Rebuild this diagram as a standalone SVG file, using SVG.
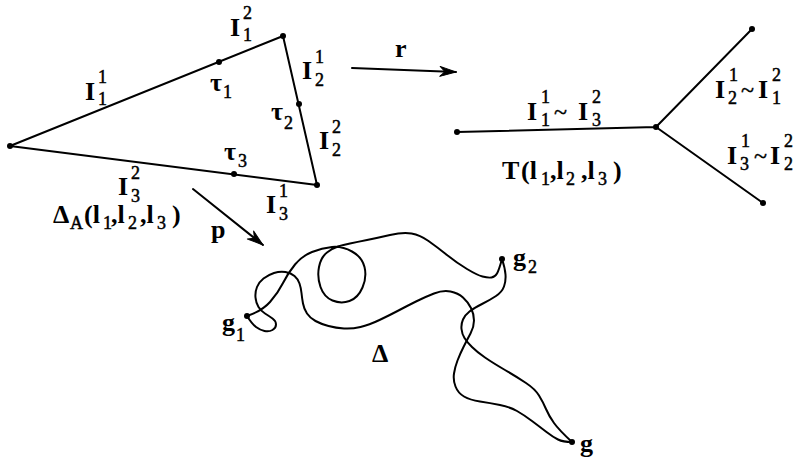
<svg xmlns="http://www.w3.org/2000/svg" width="802" height="461" viewBox="0 0 802 461">
<style>
.ln{fill:none;stroke:#000;stroke-width:2;stroke-linecap:round;stroke-linejoin:round}
.cv{fill:none;stroke:#000;stroke-width:2;stroke-linecap:round;stroke-linejoin:round}
.dot{fill:#000}
text{font-family:"Liberation Serif","Times New Roman",serif;fill:#000}
.m{font-size:26px;font-weight:bold}
.s{font-size:18px;font-weight:normal;stroke:#000;stroke-width:0.5px}
.t{font-size:24px;font-weight:normal;stroke:#000;stroke-width:0.4px}
</style>
<defs>
<marker id="ah" viewBox="-18 -7 20 14" markerWidth="20" markerHeight="14" refX="0" refY="0" orient="auto" markerUnits="userSpaceOnUse">
<path d="M-16,-5 L0,0 L-16,5 L-11,0 Z" fill="#000" stroke="#000" stroke-width="1" stroke-linejoin="round"/>
</marker>
</defs>

<g id="triangle">
<polygon class="ln" points="10,146 283,36 317,185"/>
<circle class="dot" cx="10" cy="146" r="3"/>
<circle class="dot" cx="283" cy="36" r="3"/>
<circle class="dot" cx="317" cy="185" r="3"/>
<circle class="dot" cx="219" cy="62" r="3"/>
<circle class="dot" cx="299" cy="104" r="3"/>
<circle class="dot" cx="234" cy="174" r="3"/>
<text class="m" x="230" y="36">I<tspan class="s" x="243" y="19">2</tspan><tspan class="s" x="243" y="41">1</tspan></text>
<text class="m" x="85" y="100">I<tspan class="s" x="98" y="83">1</tspan><tspan class="s" x="98" y="105">1</tspan></text>
<text class="m" x="302" y="79">I<tspan class="s" x="315" y="63">1</tspan><tspan class="s" x="315" y="86">2</tspan></text>
<text class="m" x="319" y="149">I<tspan class="s" x="332" y="133">2</tspan><tspan class="s" x="332" y="156">2</tspan></text>
<text class="m" x="118" y="195">I<tspan class="s" x="131" y="179">2</tspan><tspan class="s" x="131" y="202">3</tspan></text>
<text class="m" x="266" y="213">I<tspan class="s" x="279" y="197">1</tspan><tspan class="s" x="279" y="220">3</tspan></text>
<text class="m" x="210" y="91">τ<tspan class="s" x="223" y="98">1</tspan></text>
<text class="m" x="271" y="120">τ<tspan class="s" x="284" y="129">2</tspan></text>
<text class="m" x="224" y="160">τ<tspan class="s" x="238" y="167">3</tspan></text>
<text class="m" x="53" y="223">Δ<tspan class="s" x="70" y="229">A</tspan><tspan x="84" y="223">(l</tspan><tspan class="s" x="103" y="229">1</tspan><tspan x="111" y="223">,l</tspan><tspan class="s" x="128" y="229">2</tspan><tspan x="140" y="223">,l</tspan><tspan class="s" x="157" y="229">3</tspan><tspan x="172" y="223">)</tspan></text>
</g>

<g id="tree">
<path class="ln" d="M457,132 L656,127 L752,29 M656,127 L763,203"/>
<circle class="dot" cx="457" cy="132" r="3"/>
<circle class="dot" cx="656" cy="127" r="3"/>
<circle class="dot" cx="752" cy="29" r="3"/>
<circle class="dot" cx="763" cy="203" r="3"/>
<text class="m" x="527" y="120">I<tspan class="s" x="541" y="103">1</tspan><tspan class="s" x="541" y="126">1</tspan><tspan class="t" x="554" y="120">~</tspan><tspan x="578" y="120">I</tspan><tspan class="s" x="592" y="103">2</tspan><tspan class="s" x="592" y="126">3</tspan></text>
<text class="m" x="715" y="98">I<tspan class="s" x="729" y="81">1</tspan><tspan class="s" x="728" y="104">2</tspan><tspan class="t" x="741" y="98">~</tspan><tspan x="758" y="98">I</tspan><tspan class="s" x="772" y="81">2</tspan><tspan class="s" x="772" y="104">1</tspan></text>
<text class="m" x="727" y="164">I<tspan class="s" x="741" y="147">1</tspan><tspan class="s" x="740" y="170">3</tspan><tspan class="t" x="754" y="164">~</tspan><tspan x="770" y="164">I</tspan><tspan class="s" x="784" y="147">2</tspan><tspan class="s" x="784" y="170">2</tspan></text>
<text class="m" x="502" y="179">T<tspan x="521" y="179">(l</tspan><tspan class="s" x="541" y="185">1</tspan><tspan x="550" y="179">,l</tspan><tspan class="s" x="566" y="185">2</tspan><tspan x="581" y="179">,l</tspan><tspan class="s" x="598" y="185">3</tspan><tspan x="613" y="179">)</tspan></text>
</g>

<g id="geodesic-triangle">
<path class="cv" d="M247,316 Q262,311 270,302 Q278,293 283,283 Q288,273 295,264.5 Q302,256 312,252 Q322,248 332,247 Q342,246 352,251.5 Q362,257 364.5,267 Q367,277 362.5,287.5 Q358,298 349.5,301 Q341,304 332.5,300.5 Q324,297 320.5,287 Q317,277 319,267 Q321,257 327,252.5 Q333,248 338,246.5 Q343,245 350,243.5 Q357,242 367,240 Q377,238 390,235 Q403,232 411.5,233.5 Q420,235 428.5,241 Q437,247 447,255 Q457,263 467,269 Q477,275 482.5,276.5 Q488,278 491.5,277.5 Q495,277 497,273.5 Q499,270 502,259"/>
<path class="cv" d="M247,316 Q252,324 256,327 Q260,330 264.5,331 Q269,332 272.5,330 Q276,328 276,324.5 Q276,321 272.5,318.5 Q269,316 265,313.5 Q261,311 258.5,307 Q256,303 255.5,297.5 Q255,292 257,287 Q259,282 263.5,278.5 Q268,275 274,273 Q280,271 285.5,272 Q291,273 294.5,276 Q298,279 299.5,283.5 Q301,288 301.5,293 Q302,298 303,303.5 Q304,309 307,313.5 Q310,318 315.5,321 Q321,324 328.5,326 Q336,328 344,328.5 Q352,329 360.5,327 Q369,325 379.5,320 Q390,315 398.5,310.5 Q407,306 416,301.5 Q425,297 434,293.5 Q443,290 450.5,291.5 Q458,293 463,297.5 Q468,302 471,308 Q474,314 474,320.5 Q474,327 470.5,333.5 Q467,340 463.5,347 Q460,354 457.5,360.5 Q455,367 454,373.5 Q453,380 455.5,386.5 Q458,393 464,396.5 Q470,400 480,401.5 Q490,403 500,405 Q510,407 517,411 Q524,415 532,421 Q540,427 546.5,432 Q553,437 558,439.5 Q563,442 572,442"/>
<path class="cv" d="M502,259 Q505,268 505.5,274.5 Q506,281 504,286.5 Q502,292 496,296 Q490,300 482,304 Q474,308 469.5,311.5 Q465,315 463,319.5 Q461,324 461.5,329 Q462,334 464.5,338 Q467,342 472,347 Q477,352 485,357.5 Q493,363 505,370 Q517,377 526,383 Q535,389 539,395.5 Q543,402 546,409 Q549,416 554,423 Q559,430 572,442"/>
<circle class="dot" cx="247" cy="316" r="3"/>
<circle class="dot" cx="502" cy="259" r="3"/>
<circle class="dot" cx="572" cy="442" r="3"/>
<text class="m" x="222" y="331">g<tspan class="s" x="236" y="341">1</tspan></text>
<text class="m" x="513" y="266">g<tspan class="s" x="528" y="273">2</tspan></text>
<text class="m" x="580" y="452">g</text>
<text class="m" x="372" y="362">Δ</text>
</g>

<g id="connectors">
<line class="ln" x1="352" y1="68" x2="456" y2="72" marker-end="url(#ah)"/>
<line class="ln" x1="193" y1="189" x2="263" y2="245" marker-end="url(#ah)"/>
<text class="m" x="395" y="57">r</text>
<text class="m" x="211" y="238">p</text>
</g>
</svg>
